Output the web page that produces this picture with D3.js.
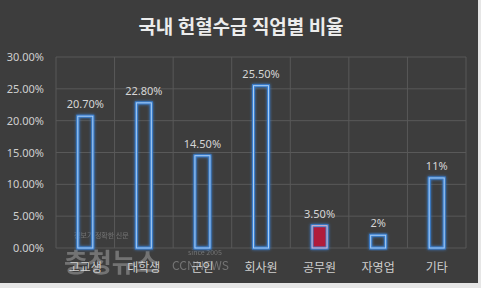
<!DOCTYPE html>
<html>
<head>
<meta charset="utf-8">
<script src="https://cdn.jsdelivr.net/npm/d3@7"></script>
<style>
  body { margin: 0; background: #e6e6e6; }
  svg { display: block; }
</style>
</head>
<body>
<div id="chart"></div>
<script>
// data
let categories = ["고교생", "대학생", "군인", "회사원", "공무원", "자영업", "기타"];
let values = [0.207, 0.228, 0.145, 0.255, 0.035, 0.02, 0.11];
let valueLabels = ["20.70%", "22.80%", "14.50%", "25.50%", "3.50%", "2%", "11%"];
let yTicks = [0, 0.05, 0.10, 0.15, 0.20, 0.25, 0.30];
let highlight = "공무원";

let width = 481, height = 288;

let svg = d3.select("#chart").append("svg")
    .attr("width", width)
    .attr("height", height);

// dark panel
svg.append("rect")
    .attr("x", 0).attr("y", 0)
    .attr("width", 478).attr("height", 283)
    .attr("fill", "#3d3d3d");

svg.append("text")
    .attr("x", 241).attr("y", 34)
    .attr("text-anchor", "middle")
    .attr("fill", "#ececec")
    .style("font-family", "'Noto Sans CJK KR', sans-serif")
    .style("font-weight", "bold")
    .style("font-size", "19px")
    .text("국내 헌혈수급 직업별 비율");

let x = d3.scaleBand()
    .domain(categories)
    .range([56, 466])
    .padding(0);

let y = d3.scaleLinear()
    .domain([0, 0.30])
    .range([248, 57]);

let grid = svg.append("g");
grid.selectAll("line.h")
    .data(yTicks)
    .join("line")
    .attr("class", "h")
    .attr("x1", 56).attr("x2", 466)
    .attr("y1", d => y(d)).attr("y2", d => y(d))
    .attr("stroke", "#595959")
    .attr("stroke-width", 1);

grid.selectAll("line.v")
    .data(categories.concat(["end"]))
    .join("line")
    .attr("class", "v")
    .attr("x1", (d, i) => 56 + i * x.step())
    .attr("x2", (d, i) => 56 + i * x.step())
    .attr("y1", y(0.30)).attr("y2", y(0))
    .attr("stroke", "#595959")
    .attr("stroke-width", 1);

// y axis labels
let yAxis = d3.axisLeft(y)
    .tickValues(yTicks)
    .tickFormat(d3.format(".2%"))
    .tickSize(0)
    .tickPadding(4);

svg.append("g")
    .attr("transform", "translate(48,0)")
    .call(yAxis)
    .call(g => g.select(".domain").remove())
    .selectAll("text")
    .attr("fill", "#cfcfcf")
    .style("font-family", "'Noto Sans', sans-serif")
    .style("font-size", "11px");

// watermark (faint)
let wm = svg.append("g")
    .attr("fill", "#a0a0a0")
    .attr("opacity", 0.55)
    .style("font-family", "'Noto Sans CJK KR', sans-serif");
wm.append("text").attr("x", 74).attr("y", 238).style("font-size", "7px").text("정보가 정확한 신문");
wm.append("text").attr("x", 64).attr("y", 272).style("font-size", "26px").style("font-weight", "bold").text("충청뉴스");
wm.append("text").attr("x", 188).attr("y", 255).style("font-size", "7px").text("since 2005");
wm.append("text").attr("x", 172).attr("y", 270).style("font-size", "12px").text("CCNNEWS");

let barW = 15;
let defs = svg.append("defs");
let glow = defs.append("filter").attr("id", "glow")
    .attr("x", "-50%").attr("y", "-20%").attr("width", "200%").attr("height", "140%");
glow.append("feGaussianBlur").attr("stdDeviation", 1.4).attr("result", "b");
let merge = glow.append("feMerge");
merge.append("feMergeNode").attr("in", "b");
merge.append("feMergeNode").attr("in", "SourceGraphic");

let bars = svg.append("g");
bars.selectAll("rect.glow")
    .data(values)
    .join("rect")
    .attr("class", "glow")
    .attr("x", (d, i) => x(categories[i]) + x.bandwidth() / 2 - barW / 2)
    .attr("y", d => y(d))
    .attr("width", barW)
    .attr("height", d => y(0) - y(d))
    .attr("fill", (d, i) => categories[i] === highlight ? "#b01e3a" : "none")
    .attr("stroke", "#3a7fcf")
    .attr("stroke-width", 3)
    .attr("filter", "url(#glow)");

bars.selectAll("rect.inner")
    .data(values)
    .join("rect")
    .attr("class", "inner")
    .attr("x", (d, i) => x(categories[i]) + x.bandwidth() / 2 - barW / 2)
    .attr("y", d => y(d))
    .attr("width", barW)
    .attr("height", d => y(0) - y(d))
    .attr("fill", "none")
    .attr("stroke", (d, i) => categories[i] === highlight ? "#e6b6c8" : "#a9cdf3")
    .attr("stroke-width", 1);

// value labels
svg.append("g").selectAll("text")
    .data(values)
    .join("text")
    .attr("x", (d, i) => x(categories[i]) + x.bandwidth() / 2)
    .attr("y", d => y(d) - 8)
    .attr("text-anchor", "middle")
    .attr("fill", "#d6d6d6")
    .style("font-family", "'Noto Sans', sans-serif")
    .style("font-size", "11px")
    .text((d, i) => valueLabels[i]);

// category labels
svg.append("g").selectAll("text")
    .data(categories)
    .join("text")
    .attr("x", d => x(d) + x.bandwidth() / 2)
    .attr("y", 272)
    .attr("text-anchor", "middle")
    .attr("fill", "#cfcfcf")
    .style("font-family", "'Noto Sans CJK KR', sans-serif")
    .style("font-size", "12px")
    .text(d => d);
</script>
</body>
</html>
